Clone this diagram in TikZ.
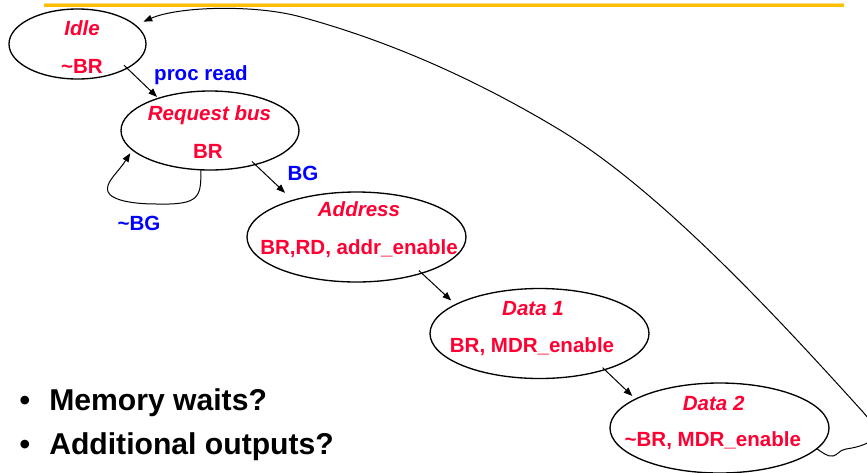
\documentclass[tikz,border=0pt]{standalone}
\usepackage{fontspec}
\setmainfont{Liberation Sans}
\usetikzlibrary{shapes.geometric,arrows.meta}

\definecolor{statered}{RGB}{255,0,51}
\definecolor{condblue}{RGB}{0,0,255}
\definecolor{rulegold}{RGB}{255,190,0}
\definecolor{rulelight}{RGB}{255,222,130}

\begin{document}
\begin{tikzpicture}[x=0.75pt,y=-0.75pt,
  state/.style={draw=black, line width=1pt, ellipse, inner sep=0pt, outer sep=0pt},
  smallstate/.style={state, minimum width=102.75pt, minimum height=52.5pt},
  midstate/.style={state, minimum width=133.5pt, minimum height=59.25pt},
  bigstate/.style={state, minimum width=164.25pt, minimum height=67.5pt},
  statename/.style={font=\fontsize{15.4}{18}\selectfont\bfseries\itshape, text=statered, anchor=base, inner sep=0pt},
  stateout/.style={font=\fontsize{15.4}{18}\selectfont\bfseries, text=statered, anchor=base, inner sep=0pt},
  cond/.style={font=\fontsize{15.4}{18}\selectfont\bfseries, text=condblue, anchor=base, inner sep=0pt},
  bullettext/.style={font=\fontsize{22.6}{26}\selectfont\bfseries, text=black, inner sep=0pt},
  arr/.style={-{Triangle[length=6.5pt,width=5pt]}, line width=0.75pt, draw=black},
]
\useasboundingbox (0,0) rectangle (867,472);
\begin{scope}
\clip (0,0) rectangle (867,472);

% title rule
\draw[rulelight, line width=0.7pt] (44,3) -- (844,3);
\draw[rulegold, line width=1.9pt] (44,5.6) -- (844,5.6);

% states
\node[smallstate] (idle) at (77.5,44) {};
\node[midstate]   (req)  at (210,130.5) {};
\node[bigstate]   (addr) at (356.5,237) {};
\node[bigstate]   (dat1) at (539.5,333.5) {};
\node[bigstate]   (dat2) at (719.5,428) {};

% state names and outputs
\node[statename] (idlename) at (82,35) {Idle};
\node[stateout]  (idleout)  at (82,73.3) {\textasciitilde BR};
\node[statename] (reqname)  at (209.5,120) {Request bus};
\node[stateout]  (reqout)   at (208,158.3) {BR};
\node[statename] (addrname) at (359,216.7) {Address};
\node[stateout]  (addrout)  at (359,254) {BR,RD, addr\_enable};
\node[statename] (dat1name) at (533,315.7) {Data 1};
\node[stateout]  (dat1out)  at (532,352.3) {BR, MDR\_enable};
\node[statename] (dat2name) at (713.7,410) {Data 2};
\node[stateout]  (dat2out)  at (712.8,446.7) {\textasciitilde BR, MDR\_enable};

% transition conditions
\node[cond] (cproc) at (201,80) {proc read};
\node[cond] (cbg)   at (303,180) {BG};
\node[cond] (cnbg)  at (139,230) {\textasciitilde BG};

% transitions
\draw[arr, shorten <=-3.2pt, shorten >=1.5pt] (idle.-26) -- (req.148);
\draw[arr, shorten <=-3.4pt, shorten >=8.2pt] (req.-37) -- (addr.150);
\draw[arr, shorten <=-2.9pt, shorten >=4.5pt] (addr.-29) -- (dat1.161);
\draw[arr, shorten <=-2.2pt, shorten >=3.4pt] (dat1.-29) -- (dat2.161);

% wait for bus grant
\draw[arr, shorten >=3pt] (req.-103)
  .. controls (201,197) and (200,205) .. (157,204)
  .. controls (125,204) and (106,198) .. (107.5,188)
  .. controls (108,180) and (119,171) .. (req.-166.6);

% back to idle
\draw[arr, shorten >=6.75pt] (dat2.-12)
  .. controls (823,453) and (828,457) .. (833,456)
  .. controls (838,455) and (839,450) .. (846,449)
  .. controls (875,445) and (884,432) .. (873,423)
  .. controls (869,419.5) and (866,415.5) .. (863,412)
  .. controls (782.6,323.2) and (662.7,191.9) .. (560,130)
  .. controls (478.7,81) and (391.7,41.5) .. (300,16.7)
  .. controls (253.7,4.2) and (178,6.5) .. (idle.18);

% questions
\node[bullettext, anchor=base] (b1) at (25,410) {\textbullet};
\node[bullettext, anchor=base west] (q1) at (49,410) {Memory waits?};
\node[bullettext, anchor=base] (b2) at (25,454) {\textbullet};
\node[bullettext, anchor=base west] (q2) at (49,454) {Additional outputs?};
\end{scope}
\end{tikzpicture}
\end{document}
